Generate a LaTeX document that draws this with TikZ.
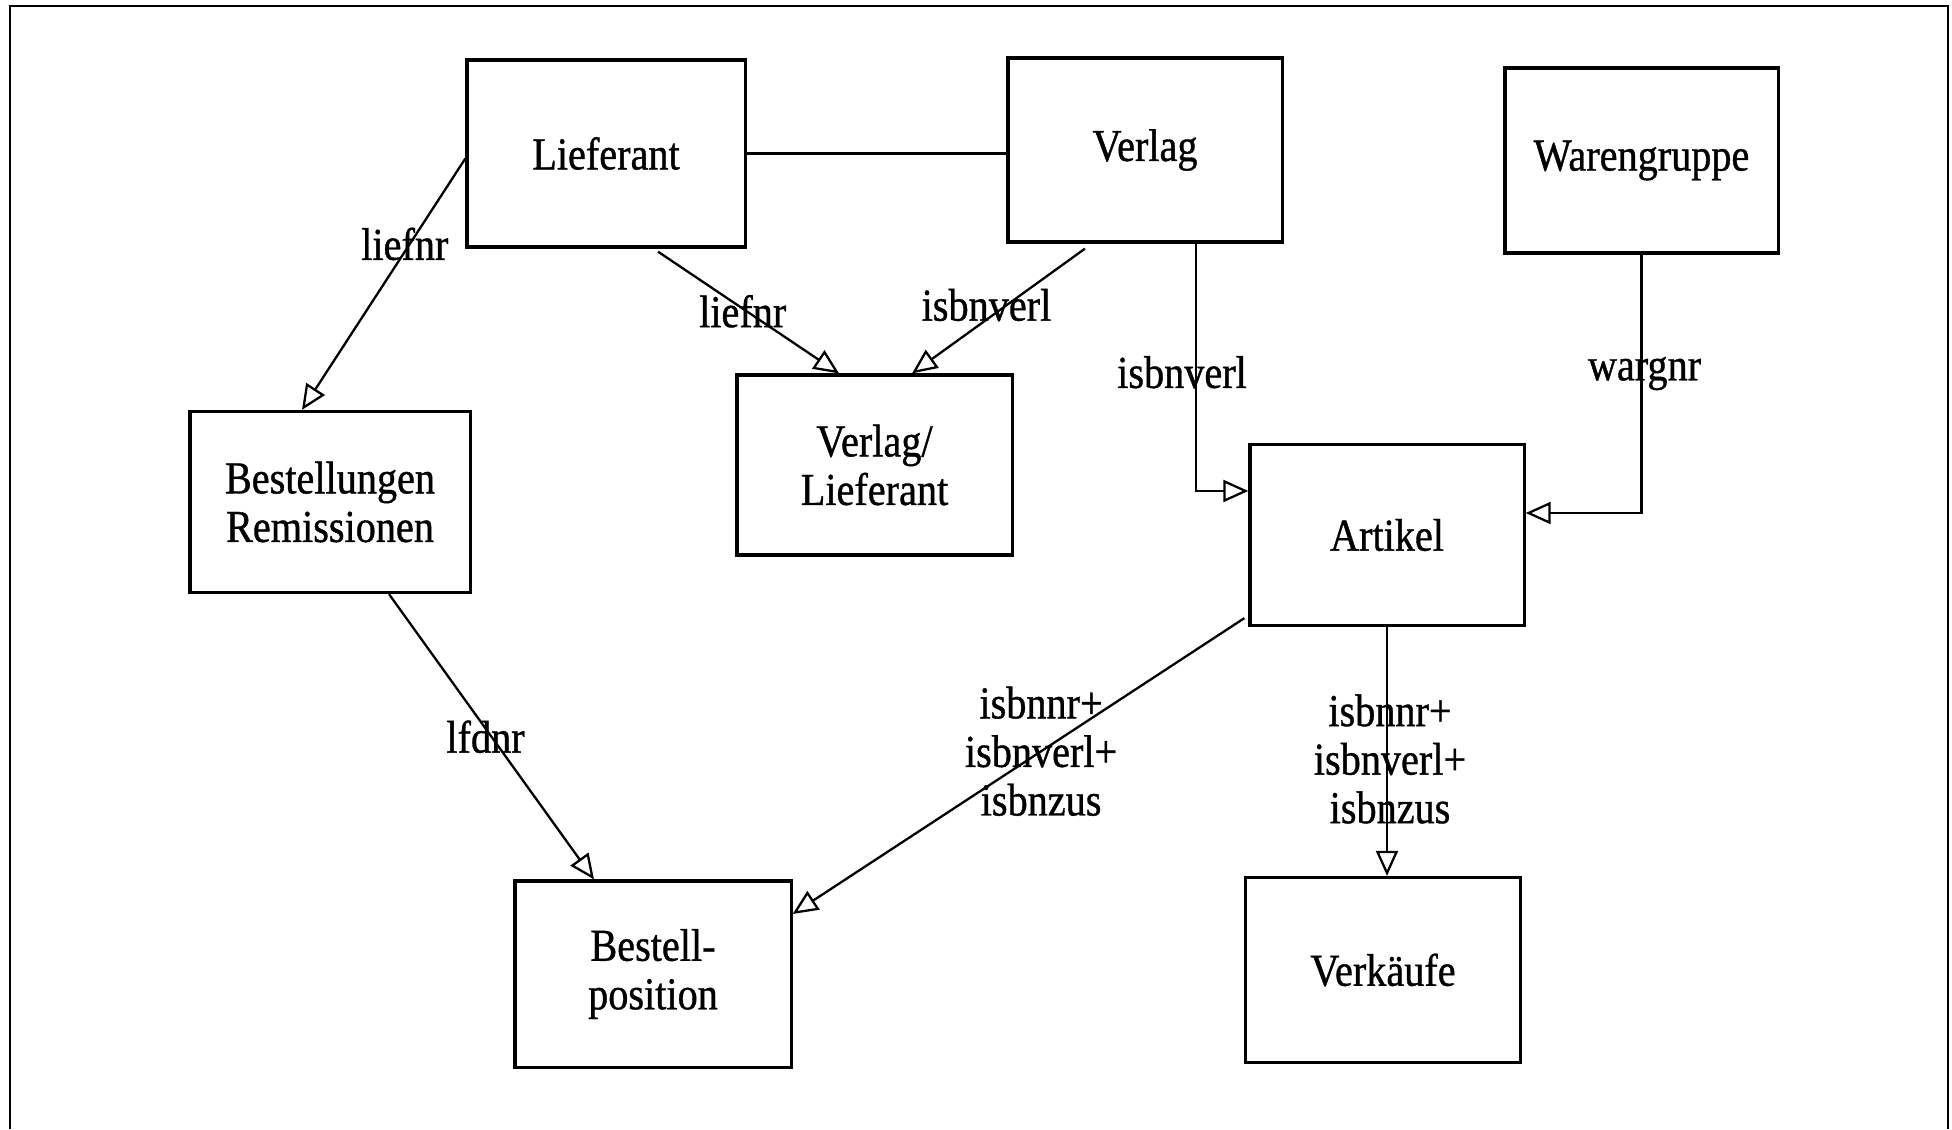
\documentclass[tikz,border=0pt]{standalone}
\usepackage{fontspec}
\setmainfont{Liberation Serif}[FakeStretch=0.88,FakeBold=0.8]
\usetikzlibrary{arrows.meta,calc}

\begin{document}
\begin{tikzpicture}[x=0.01cm,y=-0.01cm,
  font=\fontsize{13}{13.8}\selectfont,
  ent/.style 2 args={draw, line width=0.9pt, align=center, inner sep=0pt,
    minimum width=#1, minimum height=#2},
  rel/.style={line width=0.65pt,
    -{Triangle[open,fill=white,length=2.5mm,width=2.2mm]}},
  plain/.style={line width=0.65pt},
  lab/.style={align=center, inner sep=1pt}
]
\useasboundingbox (0,0) rectangle (1952,1129);

% page frame, open at the bottom
\draw[line width=0.8pt] (10,1129) -- (10,6) -- (1948,6) -- (1948,1129);

% entities
\node[ent={2.78cm}{1.87cm}] (lief)    at (606,153.5)  {Lieferant};
\node[ent={2.74cm}{1.84cm}] (verlag)  at (1145,150)   {Verlag};
\node[ent={2.73cm}{1.85cm}] (waren)   at (1641.5,160.5) {Warengruppe};
\node[ent={2.75cm}{1.80cm}] (verlief) at (874.5,465)  {Verlag/\\Lieferant};
\node[ent={2.80cm}{1.81cm}] (best)    at (330,502)    {Bestellungen\\Remissionen};
\node[ent={2.74cm}{1.81cm}] (artikel) at (1387,535)   {Artikel};
\node[ent={2.76cm}{1.86cm}] (bpos)    at (653,974)    {Bestell-\\position};
\node[ent={2.75cm}{1.85cm}] (verk)    at (1383,970)   {Verkäufe};

% relations
\draw[plain] (lief.east) -- (lief.east -| verlag.west);

\draw[rel] ([yshift=-0.05cm]lief.west) -- ([xshift=-0.28cm]best.north)
  node[lab,pos=0.34,xshift=-0.05cm] {liefnr};

\draw[rel] ([xshift=0.52cm,yshift=-0.03cm]lief.south) -- ([xshift=-0.355cm]verlief.north)
  node[lab,pos=0.49,xshift=-0.04cm] {liefnr};

\draw[rel] ([xshift=-0.6cm,yshift=-0.05cm]verlag.south) -- ([xshift=0.375cm]verlief.north)
  node[lab,pos=0.5,xshift=-0.12cm,yshift=0.06cm] {isbnverl};

\draw[rel] ([xshift=0.51cm]verlag.south) |- ([yshift=0.44cm]artikel.west)
  node[lab,pos=0.26,xshift=-0.14cm] {isbnverl};

\draw[rel] (waren.south) |- ([yshift=0.22cm]artikel.east)
  node[lab,pos=0.23,xshift=0.03cm] {wargnr};

\draw[rel] ([xshift=0.59cm]best.south) -- ([xshift=-0.59cm]bpos.north)
  node[lab,pos=0.5,xshift=-0.06cm] {lfdnr};

\draw[rel] ([xshift=-0.04cm,yshift=0.09cm]artikel.south west) -- ([yshift=0.6cm]bpos.east)
  node[lab,pos=0.45] {isbnnr+\\isbnverl+\\isbnzus};

\draw[rel] (artikel.south) -- (artikel.south |- verk.north)
  node[lab,pos=0.53,xshift=0.03cm] {isbnnr+\\isbnverl+\\isbnzus};
\end{tikzpicture}
\end{document}
